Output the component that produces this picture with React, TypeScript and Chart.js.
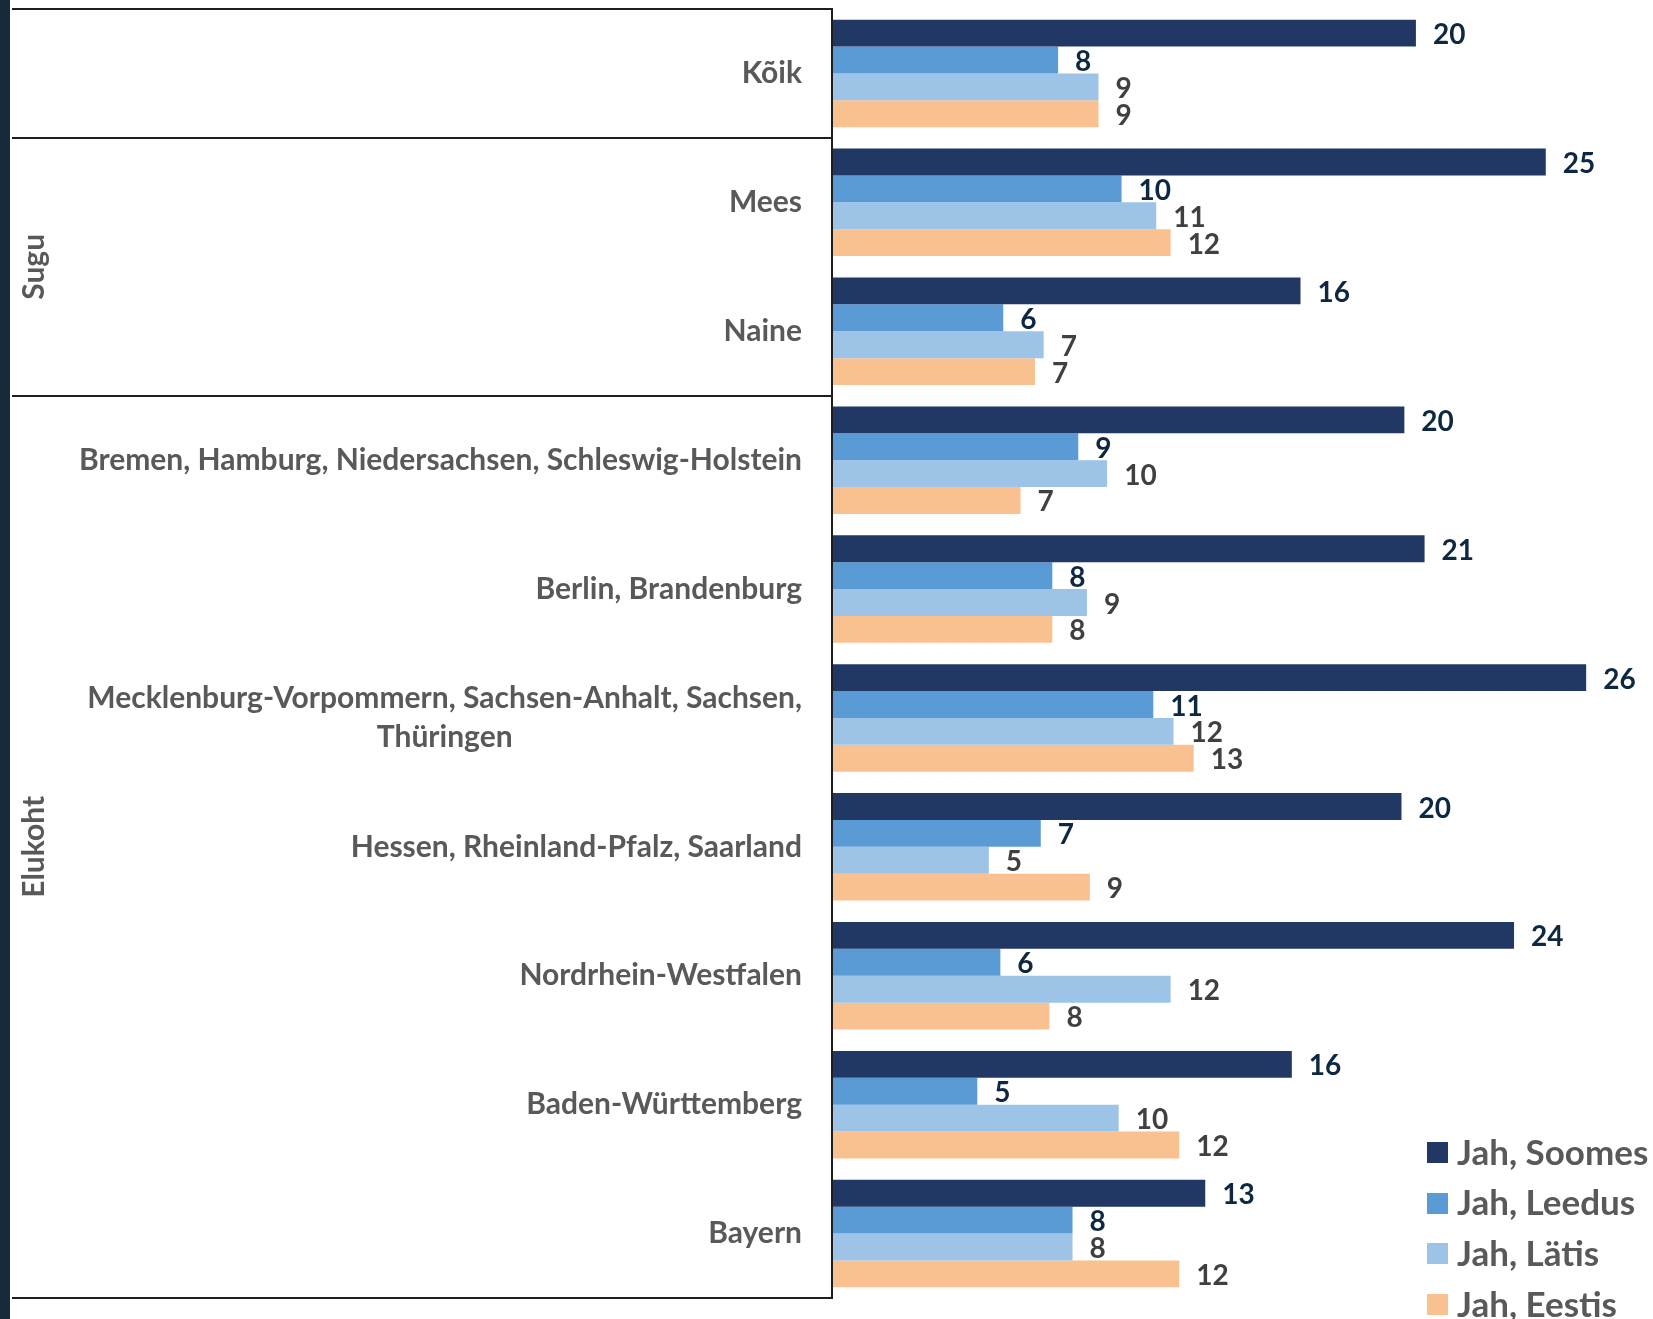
import React, { useEffect, useRef } from 'react';
import { Chart, registerables } from 'chart.js';

Chart.register(...registerables);

const W = 1653;
const H = 1319;

const categories: (string | string[])[] = [
  'Kõik',
  'Mees',
  'Naine',
  'Bremen, Hamburg, Niedersachsen, Schleswig-Holstein',
  'Berlin, Brandenburg',
  ['Mecklenburg-Vorpommern, Sachsen-Anhalt, Sachsen,', 'Thüringen'],
  'Hessen, Rheinland-Pfalz, Saarland',
  'Nordrhein-Westfalen',
  'Baden-Württemberg',
  'Bayern',
];

const groupNames = ['', 'Sugu', 'Elukoht'];
const groupSizes = [1, 2, 7];

const seriesNames = ['Jah, Soomes', 'Jah, Leedus', 'Jah, Lätis', 'Jah, Eestis'];

const soomes = [20.2, 24.7, 16.2, 19.8, 20.5, 26.1, 19.7, 23.6, 15.9, 12.9];
const leedus = [7.8, 10.0, 5.9, 8.5, 7.6, 11.1, 7.2, 5.8, 5.0, 8.3];
const latis = [9.2, 11.2, 7.3, 9.5, 8.8, 11.8, 5.4, 11.7, 9.9, 8.3];
const eestis = [9.2, 11.7, 7.0, 6.5, 7.6, 12.5, 8.9, 7.5, 12.0, 12.0];

const seriesValues = [soomes, leedus, latis, eestis];
const seriesColors = ['#213864', '#5b9bd5', '#9dc3e6', '#f8c18f'];
const labelColors = ['#0e2841', '#0e2841', '#404040', '#404040'];

const FONT = 'Lato, "Open Sans", sans-serif';

const decorPlugin = {
  id: 'decor',
  afterDraw(chart: any) {
    const { ctx, chartArea } = chart;
    const yScale = chart.scales.y;
    const n = categories.length;
    const step = (chartArea.bottom - chartArea.top) / n;
    ctx.save();

    // left dark strip
    ctx.fillStyle = '#172a3a';
    ctx.fillRect(0, 0, 10, H);

    // table lines
    ctx.strokeStyle = '#1e1e1e';
    ctx.lineWidth = 2;
    const bounds = [0];
    let acc = 0;
    groupSizes.forEach((s) => {
      acc += s;
      bounds.push(acc);
    });
    bounds.forEach((b) => {
      const yy = Math.round(chartArea.top + b * step);
      ctx.beginPath();
      ctx.moveTo(12, yy);
      ctx.lineTo(chartArea.left, yy);
      ctx.stroke();
    });
    ctx.beginPath();
    ctx.moveTo(chartArea.left - 1, Math.round(chartArea.top) - 1);
    ctx.lineTo(chartArea.left - 1, Math.round(chartArea.bottom) + 1);
    ctx.stroke();

    // category labels
    ctx.fillStyle = '#595959';
    ctx.font = `bold 30px ${FONT}`;
    ctx.textBaseline = 'middle';
    const rightX = chartArea.left - 31;
    const lineH = 39;
    categories.forEach((lab, i) => {
      const lines = Array.isArray(lab) ? lab : [lab];
      const cy = yScale.getPixelForValue(i);
      const y0 = cy - ((lines.length - 1) * lineH) / 2;
      const w0 = ctx.measureText(lines[0]).width;
      lines.forEach((ln, j) => {
        if (j === 0) {
          ctx.textAlign = 'right';
          ctx.fillText(ln, rightX, y0);
        } else {
          ctx.textAlign = 'center';
          ctx.fillText(ln, rightX - w0 / 2, y0 + j * lineH);
        }
      });
    });

    // group labels
    let start = 0;
    groupNames.forEach((g, gi) => {
      const size = groupSizes[gi];
      if (g) {
        const cy = chartArea.top + (start + size / 2) * step;
        ctx.save();
        ctx.translate(34, cy);
        ctx.rotate(-Math.PI / 2);
        ctx.textAlign = 'center';
        ctx.textBaseline = 'middle';
        ctx.fillText(g, 0, 0);
        ctx.restore();
      }
      start += size;
    });

    // data labels
    ctx.font = `bold 28px ${FONT}`;
    ctx.textAlign = 'left';
    ctx.textBaseline = 'middle';
    chart.data.datasets.forEach((ds: any, di: number) => {
      const meta = chart.getDatasetMeta(di);
      ctx.fillStyle = labelColors[di];
      meta.data.forEach((el: any, i: number) => {
        ctx.fillText(String(Math.round(ds.data[i])), el.x + 17, el.y + 2);
      });
    });

    // legend
    ctx.font = `bold 35px ${FONT}`;
    seriesNames.forEach((name, i) => {
      const cy = 1152.5 + i * 50.7;
      ctx.fillStyle = seriesColors[i];
      ctx.fillRect(1427, Math.round(cy - 10.5), 21, 21);
      ctx.fillStyle = '#595959';
      ctx.textAlign = 'left';
      ctx.fillText(name, 1457, cy + 1);
    });

    ctx.restore();
  },
};

export default function App() {
  const ref = useRef<HTMLCanvasElement>(null);

  useEffect(() => {
    document.body.style.margin = '0';
    const canvas = ref.current;
    if (!canvas) return;
    const chart = new Chart(canvas, {
      type: 'bar',
      data: {
        labels: categories as any,
        datasets: seriesNames.map((name, i) => ({
          label: name,
          data: seriesValues[i],
          backgroundColor: seriesColors[i],
          borderWidth: 0,
          categoryPercentage: 0.834,
          barPercentage: 1,
        })),
      },
      options: {
        indexAxis: 'y',
        responsive: false,
        animation: false,
        devicePixelRatio: 1,
        layout: { padding: { left: 833, top: 9, right: 12, bottom: 21 } },
        scales: {
          x: { display: false, min: 0, max: 28 },
          y: { display: false },
        },
        plugins: {
          legend: { display: false },
          tooltip: { enabled: false },
        },
      },
      plugins: [decorPlugin],
    });
    return () => chart.destroy();
  }, []);

  return (
    <div style={{ position: 'fixed', left: 0, top: 0, width: W, height: H, background: '#fff' }}>
      <canvas ref={ref} width={W} height={H} style={{ width: W, height: H, display: 'block' }} />
    </div>
  );
}
